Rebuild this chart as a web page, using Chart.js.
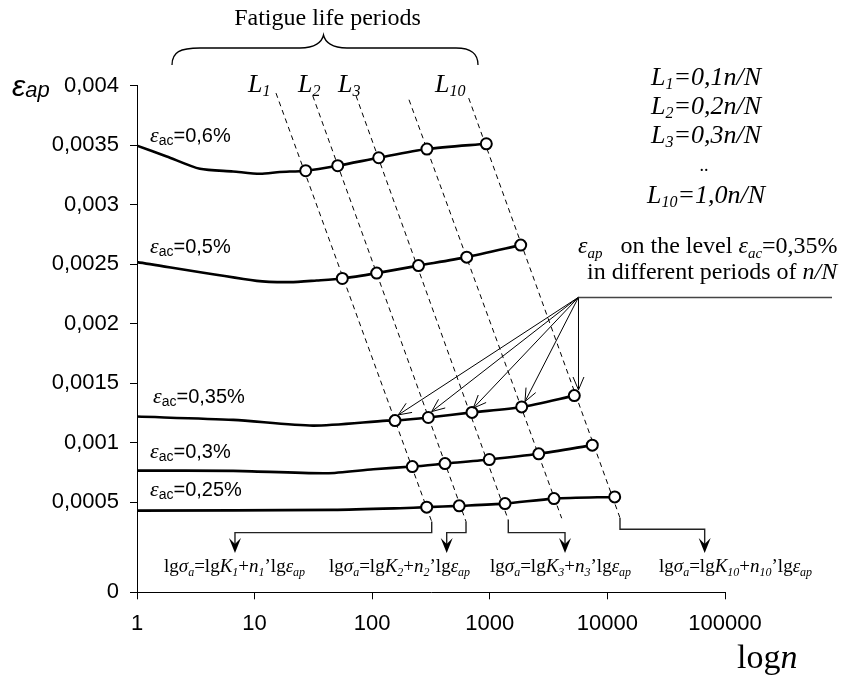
<!DOCTYPE html>
<html>
<head>
<meta charset="utf-8">
<script src="https://cdn.jsdelivr.net/npm/chart.js@4.4.0/dist/chart.umd.min.js"></script>
<style>
body { margin: 0; background: #fff; }
</style>
</head>
<body>
<canvas id="chart" width="844" height="684"></canvas>
<script>
// axis ticks
const xTickValues = [1, 10, 100, 1000, 10000, 100000];
const xTickLabels = ['1', '10', '100', '1000', '10000', '100000'];
const yTickValues = [0, 0.0005, 0.001, 0.0015, 0.002, 0.0025, 0.003, 0.0035, 0.004];
const yTickLabels = ['0', '0,0005', '0,001', '0,0015', '0,002', '0,0025', '0,003', '0,0035', '0,004'];

// curves eps_ap vs n, one per eps_ac level
const curveNames = ['0,6%', '0,5%', '0,35%', '0,3%', '0,25%'];
const n06 = [1, 1.79, 3.43, 6.55, 11.1, 16.4, 27.2, 50.9, 113.6, 292, 934];
const e06 = [0.003496, 0.003406, 0.003302, 0.00328, 0.00326, 0.003275, 0.003286, 0.003328, 0.003395, 0.003468, 0.003512];
const n05 = [1, 10.42, 20.0, 33.7, 55.7, 109.2, 247.6, 636.3, 1831];
const e05 = [0.002518, 0.002361, 0.00235, 0.002364, 0.002381, 0.002426, 0.002489, 0.00256, 0.002661];
const n035 = [1, 6.59, 31.4, 132.9, 156.3, 299.9, 705.8, 1867, 5230];
const e035 = [0.001221, 0.001193, 0.001145, 0.001187, 0.001187, 0.001213, 0.001256, 0.001302, 0.001397];
const n03 = [1, 6.59, 41.0, 102.2, 219.3, 415.9, 990, 2605, 7438];
const e03 = [0.000767, 0.000765, 0.000745, 0.000779, 0.000801, 0.000826, 0.00086, 0.000908, 0.000981];
const n025 = [1, 46.7, 172.3, 290.7, 549.4, 1347, 3515, 11535];
const e025 = [0.000431, 0.000437, 0.000451, 0.00046, 0.000471, 0.00049, 0.000532, 0.000546];

// period lines L1, L2, L3, ..., L10 (top and bottom ends)
const periodNames = ['1', '2', '3', '', '10'];
const periodTopN = [15.2, 31.2, 72.8, 205.6, 661.6];
const periodTopE = [0.003938, 0.003916, 0.003916, 0.003882, 0.003896];
const periodBotN = [320.6, 627.7, 1436, 4087, 12797];
const periodBotE = [0.000339, 0.000339, 0.000353, 0.000367, 0.00037];

// brackets from period lines to the formulas
const bracketFrom = [0, 1, 2, 4];
const bracketTurnE = [0.000246, 0.000246, 0.000246, 0.000275];
const bracketToN = [6.81, 430, 4361, 67180];
const bracketTipE = 0.0000756;

// arrows to the 0,35% points
const arrowFromN = 5678, arrowFromE = 0.002223;
const arrowTipN = [166.7, 320.6, 723.9, 1992, 5678];
const arrowTipE = [0.001235, 0.001263, 0.001292, 0.001347, 0.001445];

const SERIF = '"Liberation Serif", "Times New Roman", serif';
const SANS = '"Liberation Sans", Arial, sans-serif';

function toPoints(xs, ys) {
    return xs.map((x, i) => ({ x: x, y: ys[i] }));
}

const curves = [[n06, e06], [n05, e05], [n035, e035], [n03, e03], [n025, e025]];
const datasets = [];
curves.forEach((c, k) => {
    const len = c[0].length;
    datasets.push({
        label: curveNames[k],
        data: toPoints(c[0], c[1]),
        borderColor: '#000',
        borderWidth: 2.6,
        tension: 0.25,
        pointRadius: c[0].map((v, i) => i >= len - 5 ? 5.5 : 0),
        pointBackgroundColor: '#fff',
        pointBorderColor: '#000',
        pointBorderWidth: 2,
        order: 0
    });
});
periodNames.forEach((name, i) => {
    datasets.push({
        label: 'L' + name,
        data: [{ x: periodTopN[i], y: periodTopE[i] }, { x: periodBotN[i], y: periodBotE[i] }],
        borderColor: '#000',
        borderWidth: 1,
        borderDash: [5, 4],
        pointRadius: 0,
        order: 1
    });
});

// text with sub-scripts: parts = [text, font, dy]
function drawParts(ctx, x, y, parts, align) {
    let w = 0;
    parts.forEach(p => { ctx.font = p[1]; w += ctx.measureText(p[0]).width; });
    let cx = align === 'center' ? x - w / 2 : (align === 'right' ? x - w : x);
    ctx.textAlign = 'left';
    ctx.textBaseline = 'alphabetic';
    parts.forEach(p => {
        ctx.font = p[1];
        ctx.fillText(p[0], cx, y + (p[2] || 0));
        cx += ctx.measureText(p[0]).width;
    });
}

function openArrow(ctx, x0, y0, x1, y1) {
    ctx.beginPath();
    ctx.moveTo(x0, y0);
    ctx.lineTo(x1, y1);
    const a = Math.atan2(y1 - y0, x1 - x0);
    const L = 14;
    ctx.moveTo(x1 - L * Math.cos(a - 0.4), y1 - L * Math.sin(a - 0.4));
    ctx.lineTo(x1, y1);
    ctx.lineTo(x1 - L * Math.cos(a + 0.4), y1 - L * Math.sin(a + 0.4));
    ctx.stroke();
}

function arrowDown(ctx, x, y) {
    ctx.beginPath();
    ctx.moveTo(x, y);
    ctx.lineTo(x - 6, y - 15);
    ctx.lineTo(x, y - 9);
    ctx.lineTo(x + 6, y - 15);
    ctx.closePath();
    ctx.fill();
}

function formula(k) {
    const f = 19, s = 12;
    return [
        ['lg', f + 'px ' + SERIF],
        ['σ', 'italic ' + f + 'px ' + SERIF],
        ['a', 'italic ' + s + 'px ' + SERIF, 4],
        ['=lg', f + 'px ' + SERIF],
        ['K', 'italic ' + f + 'px ' + SERIF],
        [k, 'italic ' + s + 'px ' + SERIF, 4],
        ['+', f + 'px ' + SERIF],
        ['n', 'italic ' + f + 'px ' + SERIF],
        [k, 'italic ' + s + 'px ' + SERIF, 4],
        ['’lg', f + 'px ' + SERIF],
        ['ε', 'italic ' + f + 'px ' + SERIF],
        ['ap', 'italic ' + s + 'px ' + SERIF, 4]
    ];
}

const annotations = {
    id: 'annotations',
    afterDatasetsDraw(chart) {
        const ctx = chart.ctx;
        const xs = chart.scales.x, ys = chart.scales.y;
        ctx.save();
        ctx.strokeStyle = '#222';
        ctx.fillStyle = '#000';
        ctx.lineWidth = 1.4;
        // brackets
        bracketFrom.forEach((li, i) => {
            const x0 = xs.getPixelForValue(periodBotN[li]);
            const y0 = ys.getPixelForValue(periodBotE[li]);
            const yt = ys.getPixelForValue(bracketTurnE[i]);
            const x1 = xs.getPixelForValue(bracketToN[i]);
            const y1 = ys.getPixelForValue(bracketTipE);
            ctx.beginPath();
            ctx.moveTo(x0, y0);
            ctx.lineTo(x0, yt);
            ctx.lineTo(x1, yt);
            ctx.lineTo(x1, y1 - 8);
            ctx.stroke();
            arrowDown(ctx, x1, y1);
        });
        // arrows to the 0,35% level
        ctx.lineWidth = 1;
        ctx.strokeStyle = '#000';
        const ax = xs.getPixelForValue(arrowFromN), ay = ys.getPixelForValue(arrowFromE);
        arrowTipN.forEach((n, i) => {
            openArrow(ctx, ax, ay, xs.getPixelForValue(n), ys.getPixelForValue(arrowTipE[i]));
        });
        ctx.restore();
    },
    afterDraw(chart) {
        const ctx = chart.ctx;
        ctx.save();
        ctx.fillStyle = '#000';
        ctx.strokeStyle = '#000';

        // brace and its title
        drawParts(ctx, 327.5, 25, [['Fatigue life periods', '24px ' + SERIF]], 'center');
        ctx.lineWidth = 1.3;
        ctx.beginPath();
        ctx.moveTo(172, 65);
        ctx.bezierCurveTo(172, 52, 180, 48, 200, 48);
        ctx.lineTo(300, 48);
        ctx.bezierCurveTo(315, 48, 322, 42, 323.5, 35);
        ctx.bezierCurveTo(325, 42, 332, 48, 347, 48);
        ctx.lineTo(456, 48);
        ctx.bezierCurveTo(472, 48, 478, 54, 478, 65);
        ctx.stroke();

        // L labels over the dashed lines
        const lLabelX = [248, 298, 338, 435];
        ['1', '2', '3', '10'].forEach((k, i) => {
            drawParts(ctx, lLabelX[i], 92, [['L', 'italic 26px ' + SERIF], [k, 'italic 16px ' + SERIF, 4]]);
        });

        // legend of periods
        const defs = [['1', '=0,1n/N', 85], ['2', '=0,2n/N', 114], ['3', '=0,3n/N', 143], ['10', '=1,0n/N', 203]];
        defs.forEach(d => {
            drawParts(ctx, 706, d[2], [['L', 'italic 26px ' + SERIF], [d[0], 'italic 16px ' + SERIF, 4], [d[1], 'italic 26px ' + SERIF]], 'center');
        });
        drawParts(ctx, 704, 171, [['..', '18px ' + SERIF]], 'center');

        // note on the 0,35% level
        drawParts(ctx, 578, 253, [
            ['ε', 'italic 24px ' + SERIF], ['ap', 'italic 15px ' + SERIF, 5],
            ['   on the level ', '24px ' + SERIF],
            ['ε', 'italic 24px ' + SERIF], ['ac', 'italic 15px ' + SERIF, 5],
            ['=0,35%', '24px ' + SERIF]
        ]);
        drawParts(ctx, 587, 279, [['in different periods of ', '24px ' + SERIF], ['n/N', 'italic 24px ' + SERIF]]);
        ctx.strokeStyle = '#444';
        ctx.lineWidth = 1.5;
        ctx.beginPath();
        ctx.moveTo(578.5, 297.5);
        ctx.lineTo(832, 297.5);
        ctx.stroke();

        // curve labels
        const labelY = [142, 253, 403, 458, 496];
        const labelX = [150, 150, 153, 150, 150];
        curveNames.forEach((name, i) => {
            drawParts(ctx, labelX[i], labelY[i], [
                ['ε', 'italic 22px ' + SERIF], ['ac', '14px ' + SANS, 3], ['=' + name, '20px ' + SANS]
            ]);
        });

        // formulas
        const fx = [164, 329, 490, 659];
        ['1', '2', '3', '10'].forEach((k, i) => drawParts(ctx, fx[i], 572, formula(k)));

        // axis titles
        drawParts(ctx, 12, 96, [['ε', 'italic 30px ' + SANS], ['ap', 'italic 22px ' + SANS, 1]]);
        drawParts(ctx, 737, 668, [['log', '34px ' + SERIF], ['n', 'italic 34px ' + SERIF]]);
        ctx.restore();
    }
};

const myChart = new Chart(document.getElementById('chart'), {
    type: 'line',
    data: { datasets: datasets },
    options: {
        responsive: false,
        animation: false,
        layout: { padding: { left: 0, top: 85.7, right: 119, bottom: 0 } },
        plugins: { legend: { display: false }, tooltip: { enabled: false } },
        scales: {
            x: {
                type: 'logarithmic',
                min: 1,
                max: 100000,
                afterBuildTicks: s => { s.ticks = xTickValues.map(v => ({ value: v })); },
                afterFit: s => { s.height = 91.7; },
                ticks: {
                    callback: (v, i) => xTickLabels[i],
                    font: { family: SANS, size: 22 },
                    color: '#000',
                    padding: 11,
                    maxRotation: 0,
                    autoSkip: false
                },
                grid: { drawOnChartArea: false, drawTicks: true, tickLength: 7, color: '#000' },
                border: { color: '#000', width: 1 }
            },
            y: {
                type: 'linear',
                min: -0.000255,
                max: 0.004,
                afterBuildTicks: s => { s.ticks = yTickValues.map(v => ({ value: v === 0 ? s.min : v })); },
                afterFit: s => { s.width = 137; },
                ticks: {
                    callback: (v, i) => yTickLabels[i],
                    font: { family: SANS, size: 22 },
                    color: '#000',
                    padding: 11,
                    autoSkip: false
                },
                grid: { drawOnChartArea: false, drawTicks: true, tickLength: 7, color: '#000' },
                border: { color: '#000', width: 1 }
            }
        }
    },
    plugins: [annotations]
});
</script>
</body>
</html>
